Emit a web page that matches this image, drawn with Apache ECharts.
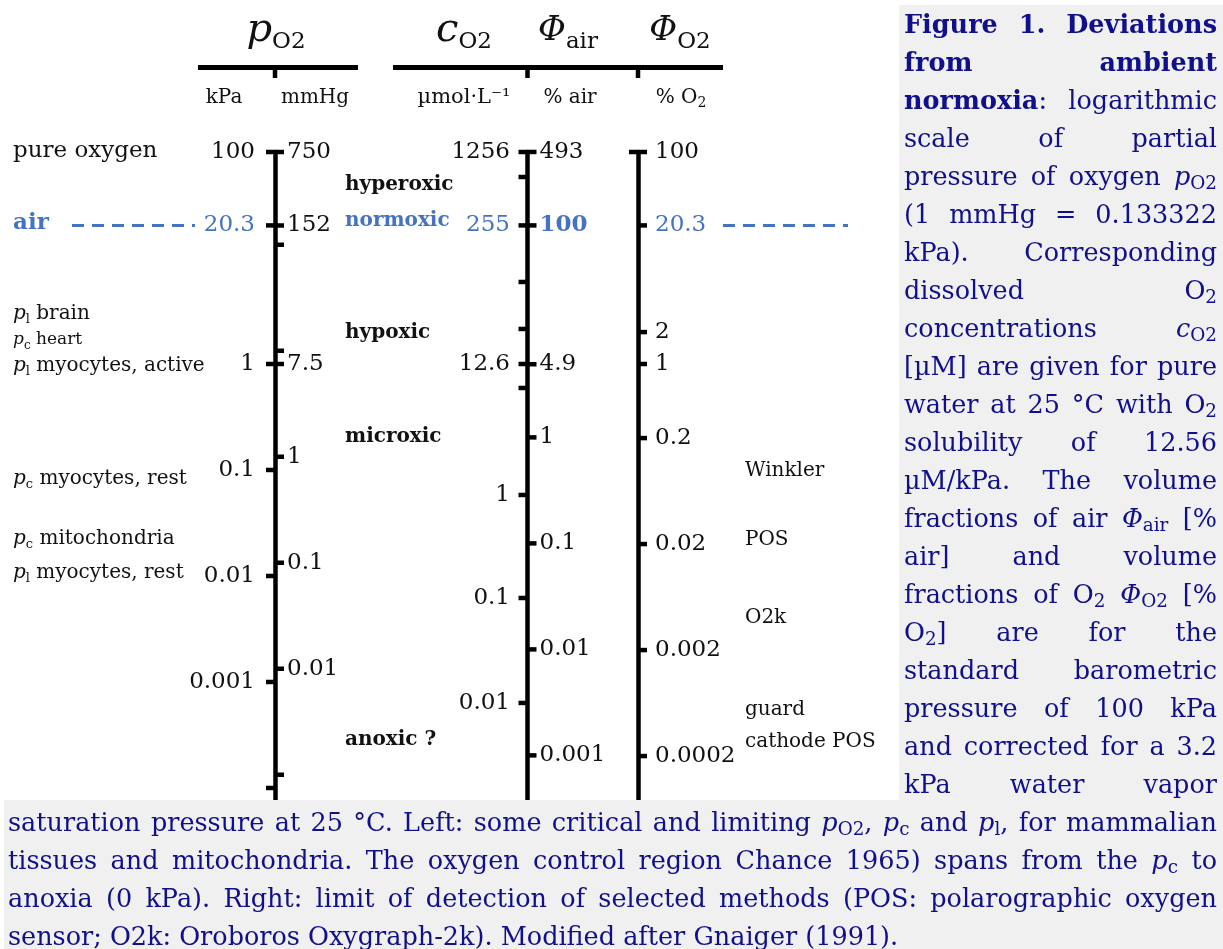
<!DOCTYPE html>
<html><head><meta charset="utf-8">
<script src="https://cdn.jsdelivr.net/npm/echarts@6/dist/echarts.min.js"></script>
<style>
html,body{margin:0;padding:0;background:#fff;}
#chart{position:absolute;left:0;top:0;width:1223px;height:949px;}
.capbg{position:absolute;background:#f0f0f0;}
.cap{position:absolute;font-family:'DejaVu Serif',serif;font-size:25.5px;line-height:38px;color:#10108c;}
.cap .ln{white-space:nowrap;height:38px;}
.cap .ln span.w{display:inline-block;white-space:nowrap;}
.cap sub{font-size:0.72em;vertical-align:-0.22em;line-height:0;}
.cap i{font-style:italic;}
</style></head><body>
<div id="chart"></div>
<div class="capbg" style="left:899px;top:5px;width:324px;height:795px"></div>
<div class="capbg" style="left:4px;top:800px;width:1219px;height:149px"></div>
<div class="cap" id="capR" style="left:904px;top:5px;width:313px"></div>
<div class="cap" id="capB" style="left:8px;top:803px;width:1209px"></div>
<script>
// ---------------- data ----------------
const AIR_KPA = 20.3;                 // ambient normoxia, kPa
const KPA_PER_MMHG = 0.133322;
// pO2 in kPa (left side of first axis)
const kPaTickValues = [100, 20.3, 1, 0.1, 0.01, 0.001, 0.0001];
const kPaTickLabels = ['100', '20.3', '1', '0.1', '0.01', '0.001', ''];
// pO2 in mmHg (right side of first axis)
const mmHgTickValues = [750, 152, 100, 10, 7.5, 1, 0.1, 0.01, 0.001];
const mmHgTickLabels = ['750', '152', '', '', '7.5', '1', '0.1', '0.01', ''];
// cO2 in µmol/L (left side of second axis): labels and the pO2 level (kPa) where each tick sits in the figure
const cO2TickLabels = ['1256', '', '255', '', '', '12.6', '', '1', '0.1', '0.01'];
const cO2TickAtKPa = [100, 58.1, 20.3, 5.94, 2.14, 1, 0.594, 0.0581, 0.0062, 0.000634];
// Φair in % air (right side of second axis)
const airTickValues = [493, 100, 4.9, 1, 0.1, 0.01, 0.001];
const airTickLabels = ['493', '100', '4.9', '1', '0.1', '0.01', '0.001'];
// ΦO2 in % O2 (third axis; numerically equal to kPa at 100 kPa)
const o2TickValues = [100, 20.3, 2, 1, 0.2, 0.02, 0.002, 0.0002];
const o2TickLabels = ['100', '20.3', '2', '1', '0.2', '0.02', '0.002', '0.0002'];
const o2LeftTickValues = [100];

const axisTitles = ['pO2', 'cO2', 'Φair', 'ΦO2'];
const unitLabels = ['kPa', 'mmHg', 'µmol·L⁻¹', '% air', '% O2'];
const regionLabels = ['hyperoxic', 'normoxic', 'hypoxic', 'microxic', 'anoxic ?'];
const methodLabels = ['Winkler', 'POS', 'O2k', 'guard', 'cathode POS'];

const captionRight = [
 '<b>Figure 1. Deviations</b>',
 '<b>from ambient</b>',
 '<b>normoxia</b>: logarithmic',
 'scale of partial',
 'pressure of oxygen <i>p</i><sub>O2</sub>',
 '(1 mmHg = 0.133322',
 'kPa). Corresponding',
 'dissolved O<sub>2</sub>',
 'concentrations <i>c</i><sub>O2</sub>',
 '[µM] are given for pure',
 'water at 25 °C with O<sub>2</sub>',
 'solubility of 12.56',
 'µM/kPa. The volume',
 'fractions of air <i>Φ</i><sub>air</sub> [%',
 'air] and volume',
 'fractions of O<sub>2</sub> <i>Φ</i><sub>O2</sub> [%',
 'O<sub>2</sub>] are for the',
 'standard barometric',
 'pressure of 100 kPa',
 'and corrected for a 3.2',
 'kPa water vapor'
];
const captionBottom = [
 'saturation pressure at 25 °C. Left: some critical and limiting <i>p</i><sub>O2</sub>, <i>p</i><sub>c</sub> and <i>p</i><sub>l</sub>, for mammalian',
 'tissues and mitochondria. The oxygen control region Chance 1965) spans from the <i>p</i><sub>c</sub> to',
 'anoxia (0 kPa). Right: limit of detection of selected methods (POS: polarographic oxygen',
 'sensor; O2k: Oroboros Oxygraph-2k). Modified after Gnaiger (1991).'
];

// ---------------- layout / style ----------------
const SERIF = 'DejaVu Serif';
const BLUE = '#4472C4';
const INK = '#111111';
const AXIS_X = [275, 527.5, 638];
const TOP = 152, HEIGHT = 648;
const Y_MIN = 7.7e-5, Y_MAX = 100;
const TICK_LEN = 9, TICK_W = 4.5;

const grids = [], xAxes = [], yAxes = [], series = [];
function addGrid(left, width, showAxis) {
  const i = grids.length;
  grids.push({left: left, top: TOP, width: width, height: HEIGHT});
  xAxes.push({gridIndex: i, type: 'value', min: 0, max: 1, show: false});
  yAxes.push({gridIndex: i, type: 'log', logBase: 10, min: Y_MIN, max: Y_MAX, show: showAxis,
    axisLine: {show: true, onZero: false, lineStyle: {color: '#000', width: 4.5}},
    axisTick: {show: false}, axisLabel: {show: false}, splitLine: {show: false}});
  return i;
}
AXIS_X.forEach(x => addGrid(x, 40, true));
const dashL = addGrid(72, 123, false);
const dashR = addGrid(723, 125, false);

function isAir(v) { return Math.abs(v - AIR_KPA) < 1e-6; }
function tickSeries(g, side, kpaVals, labels, dist, boldAir) {
  return {
    type: 'scatter', xAxisIndex: g, yAxisIndex: g, clip: false, silent: true, z: 5,
    symbol: 'rect', symbolSize: [TICK_LEN, TICK_W],
    symbolOffset: [side === 'left' ? -TICK_LEN / 2 : TICK_LEN / 2, 0],
    itemStyle: {color: '#000', opacity: 1},
    label: {show: true, position: side, distance: dist, fontFamily: SERIF, fontSize: 23, color: INK, opacity: 1},
    data: kpaVals.map((v, i) => {
      const d = {value: [0, v], label: {formatter: labels[i] || ''}};
      if (labels[i] && isAir(v)) { d.label.color = BLUE; if (boldAir) d.label.fontWeight = 'bold'; }
      return d;
    })
  };
}
series.push(tickSeries(0, 'left', kPaTickValues, kPaTickLabels, 11, false));
series.push(tickSeries(0, 'right', mmHgTickValues.map(v => v * KPA_PER_MMHG), mmHgTickLabels, 3, false));
series.push(tickSeries(1, 'left', cO2TickAtKPa, cO2TickLabels, 8.5, false));
series.push(tickSeries(1, 'right', airTickValues.map(v => v / 100 * AIR_KPA), airTickLabels, 3, true));
series.push(tickSeries(2, 'left', o2LeftTickValues, [''], 8, false));
series.push(tickSeries(2, 'right', o2TickValues, o2TickLabels, 8, false));
[dashL, dashR].forEach(g => series.push({
  type: 'line', xAxisIndex: g, yAxisIndex: g, silent: true, showSymbol: false, symbol: 'none',
  lineStyle: {color: BLUE, width: 3, type: [12, 8], opacity: 1},
  data: [[0, AIR_KPA], [1, AIR_KPA]]
}));

// ---------------- text / decoration ----------------
const graphic = [];
function txt(x, y, text, opt) {
  opt = opt || {};
  graphic.push({type: 'text', x: x, y: y, silent: true, style: Object.assign({
    text: text, fill: opt.fill || INK, fontFamily: SERIF, fontSize: opt.size || 20,
    fontWeight: opt.weight || 'normal', fontStyle: opt.style || 'normal',
    align: opt.align || 'left', verticalAlign: 'middle',
    textAlign: opt.align || 'left', textVerticalAlign: 'middle'
  }, opt.rich ? {rich: opt.rich} : {})});
}
function hline(x1, x2, y, w) {
  graphic.push({type: 'line', silent: true, shape: {x1: x1, y1: y, x2: x2, y2: y}, style: {stroke: '#000', lineWidth: w}});
}
function vline(x, y1, y2, w) {
  graphic.push({type: 'line', silent: true, shape: {x1: x, y1: y1, x2: x, y2: y2}, style: {stroke: '#000', lineWidth: w}});
}
// header rules
hline(198, 358, 67.5, 5); vline(AXIS_X[0], 67, 78, 4.5);
hline(393, 723, 67.5, 5); vline(AXIS_X[1], 67, 78, 4.5); vline(AXIS_X[2], 67, 78, 4.5);

// axis titles
function titleRich(mainSize, subSize, subLH) {
  return {
    m: {fontFamily: SERIF, fontStyle: 'italic', fontSize: mainSize, lineHeight: 46, fill: INK},
    s: {fontFamily: SERIF, fontSize: subSize, lineHeight: subLH, verticalAlign: 'bottom', fill: INK}
  };
}
const tSplit = axisTitles.map(t => [t.charAt(0), t.slice(1)]);
txt(276, 31, '{m|' + tSplit[0][0] + '}{s|' + tSplit[0][1] + '}', {align: 'center', rich: titleRich(40, 23, 4)});
txt(464, 31, '{m|' + tSplit[1][0] + '}{s|' + tSplit[1][1] + '}', {align: 'center', rich: titleRich(40, 23, 4)});
txt(568, 31, '{m|' + tSplit[2][0] + '}{s|' + tSplit[2][1] + '}', {align: 'center', rich: titleRich(34, 23, 18)});
txt(680, 31, '{m|' + tSplit[3][0] + '}{s|' + tSplit[3][1] + '}', {align: 'center', rich: titleRich(34, 23, 4)});

// unit labels
txt(224, 98, unitLabels[0], {align: 'center', size: 20});
txt(315, 98, unitLabels[1], {align: 'center', size: 20});
txt(464, 98, unitLabels[2], {align: 'center', size: 21});
txt(570, 98, unitLabels[3], {align: 'center', size: 20});
txt(681, 98, '{n|% O}{s|2}', {align: 'center', size: 20, rich: {
  n: {fontFamily: SERIF, fontSize: 20, lineHeight: 24, fill: INK},
  s: {fontFamily: SERIF, fontSize: 14, lineHeight: 12, verticalAlign: 'bottom', fill: INK}}});

// left annotations
function pRich(size, subSize) {
  return {
    i: {fontFamily: SERIF, fontStyle: 'italic', fontSize: size, lineHeight: 24, fill: INK},
    s: {fontFamily: SERIF, fontSize: subSize, lineHeight: 12, verticalAlign: 'bottom', fill: INK},
    n: {fontFamily: SERIF, fontSize: size, lineHeight: 24, fill: INK}
  };
}
txt(13, 151, 'pure oxygen', {size: 23});
txt(13, 223, 'air', {size: 23, weight: 'bold', fill: BLUE});
txt(13, 314, '{i|p}{s|l}{n| brain}', {rich: pRich(20, 13)});
txt(13, 340, '{i|p}{s|c}{n| heart}', {rich: pRich(17, 12)});
txt(13, 366, '{i|p}{s|l}{n| myocytes, active}', {rich: pRich(20, 13)});
txt(13, 479, '{i|p}{s|c}{n| myocytes, rest}', {rich: pRich(20, 13)});
txt(13, 539, '{i|p}{s|c}{n| mitochondria}', {rich: pRich(20, 13)});
txt(13, 573, '{i|p}{s|l}{n| myocytes, rest}', {rich: pRich(20, 13)});

// oxygen regions
txt(345, 185, regionLabels[0], {size: 20, weight: 'bold'});
txt(345, 221, regionLabels[1], {size: 20, weight: 'bold', fill: BLUE});
txt(345, 333, regionLabels[2], {size: 20, weight: 'bold'});
txt(345, 437, regionLabels[3], {size: 20, weight: 'bold'});
txt(345, 740, regionLabels[4], {size: 20, weight: 'bold'});

// detection methods
txt(745, 471, methodLabels[0], {size: 20});
txt(745, 540, methodLabels[1], {size: 20});
txt(745, 618, methodLabels[2], {size: 20});
txt(745, 710, methodLabels[3], {size: 20});
txt(745, 742, methodLabels[4], {size: 20});

const chart = echarts.init(document.getElementById('chart'), null, {renderer: 'canvas'});
chart.setOption({
  backgroundColor: '#ffffff',
  animation: false,
  grid: grids, xAxis: xAxes, yAxis: yAxes, series: series, graphic: graphic
});

// ---------------- caption (justified lines) ----------------
function fillCaption(id, lines, justifyLast) {
  const box = document.getElementById(id);
  const W = box.clientWidth;
  lines.forEach((html, k) => {
    const ln = document.createElement('div');
    ln.className = 'ln';
    const sp = document.createElement('span');
    sp.className = 'w';
    sp.innerHTML = html;
    ln.appendChild(sp);
    box.appendChild(ln);
    const last = k === lines.length - 1;
    if (!last || justifyLast) {
      const n = (sp.textContent.match(/ /g) || []).length;
      const w = sp.getBoundingClientRect().width;
      if (n > 0) sp.style.wordSpacing = ((W - w) / n) + 'px';
    }
  });
}
fillCaption('capR', captionRight, true);
fillCaption('capB', captionBottom, false);
</script>
</body></html>
